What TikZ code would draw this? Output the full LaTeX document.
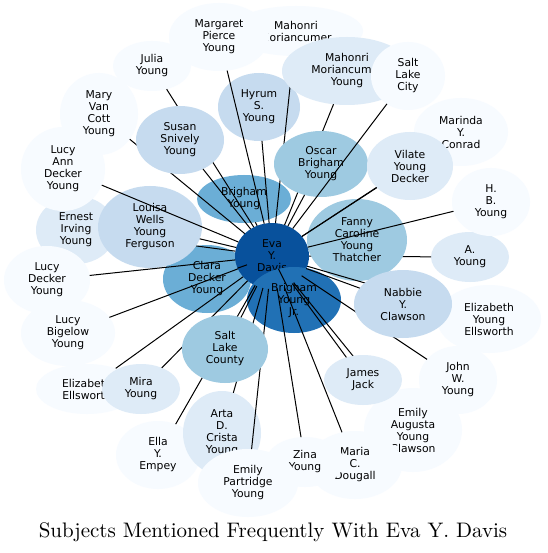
\documentclass[tikz,border=0pt]{standalone}
\usepackage{fontspec}
\newfontfamily\labelfont{DejaVu Sans}
\newfontfamily\titlefont{lmroman10-regular}[Extension=.otf]
\usetikzlibrary{shapes.geometric}
\definecolor{BluA}{HTML}{F7FBFF}
\definecolor{BluB}{HTML}{DEEBF7}
\definecolor{BluC}{HTML}{C6DBEF}
\definecolor{BluD}{HTML}{9ECAE1}
\definecolor{BluE}{HTML}{6BAED6}
\definecolor{BluG}{HTML}{2171B5}
\definecolor{BluH}{HTML}{08519C}
\tikzset{
MyNodeStyle/.style  ={ellipse, inner sep=0pt, outer sep=0pt, align=center,
                      font=\labelfont\fontsize{10.8}{12}\selectfont},
MySize/.style 2 args={minimum width=#1, minimum height=#2},
MyEdgeStyle/.style  ={line width=1pt, black},
}

\begin{document}
\begin{tikzpicture}[x=1pt, y=-1pt]
\fill[white] (0,0) rectangle (547,553);
\useasboundingbox (0,0) rectangle (547,553);

\begin{scope}[MyNodeStyle]  % centre
\node[fill=BluE, MySize={88}{68}] (Clara) at (207,279) {Clara\\Decker\\Young};
\node[fill=BluE, MySize={94}{48}] (BY) at (244,199) {Brigham\\Young};
\node[fill=BluH, MySize={74}{66}] (Eva) at (272,256) {Eva\\Y.\\Davis};
\node[fill=BluG, MySize={94}{66}] (BYJr) at (294,300) {Brigham\\Young\\Jr.};
\node[fill=BluB, MySize={80}{68}] (Ernest) at (76,230) {Ernest\\Irving\\Young};
\end{scope}
\draw[MyEdgeStyle] (Eva) -- (Ernest);
\draw[MyEdgeStyle] (Eva) -- (Clara);
\draw[MyEdgeStyle] (Eva) -- (BY);
\draw[MyEdgeStyle] (Eva) -- (BYJr);

\begin{scope}[MyNodeStyle]  % upper left
\node[fill=BluC, MySize={104}{82}] (Louisa) at (150,227) {Louisa\\Wells\\Young\\Ferguson};
\node[fill=BluA, MySize={78}{82}] (MaryVC) at (99,114) {Mary\\Van\\Cott\\Young};
\node[fill=BluA, MySize={84}{84}] (LucyAnn) at (63,169) {Lucy\\Ann\\Decker\\Young};
\node[fill=BluA, MySize={78}{50}] (Julia) at (152,66) {Julia\\Young};
\end{scope}
\draw[MyEdgeStyle] (Eva) -- (Julia);
\draw[MyEdgeStyle] (Eva) -- (MaryVC);

\begin{scope}[MyNodeStyle]
\node[fill=BluC, MySize={88}{68}] (Susan) at (180,140) {Susan\\Snively\\Young};
\end{scope}
\draw[MyEdgeStyle] (Eva) -- (Susan);
\node[MyNodeStyle, fill=BluC, MySize={82}{68}] (Hyrum) at (259,107) {Hyrum\\S.\\Young};
\draw[MyEdgeStyle] (Eva) -- (Hyrum);

\begin{scope}[MyNodeStyle]  % top
\node[fill=BluA, MySize={134}{50}] (Mahonri) at (296,31) {Mahonri\\Moriancumer};
\node[fill=BluA, MySize={100}{68}] (Margaret) at (219,37) {Margaret\\Pierce\\Young};
\end{scope}
\draw[MyEdgeStyle] (Eva) -- (Mahonri);
\draw[MyEdgeStyle] (Eva) -- (Margaret);
\node[MyNodeStyle, fill=BluB, MySize={130}{68}] (MMY) at (347,71) {Mahonri\\Moriancumer\\Young};
\draw[MyEdgeStyle] (Eva) -- (MMY);
\node[MyNodeStyle, fill=BluD, MySize={94}{66}] (Oscar) at (321,164) {Oscar\\Brigham\\Young};
\draw[MyEdgeStyle] (Eva) -- (Oscar);
\node[MyNodeStyle, fill=BluA, MySize={74}{68}] (SLCity) at (408,76) {Salt\\Lake\\City};
\draw[MyEdgeStyle] (Eva) -- (SLCity);

\begin{scope}[MyNodeStyle]  % right
\node[fill=BluB, MySize={78}{50}] (AYoung) at (470,257) {A.\\Young};
\end{scope}
\draw[MyEdgeStyle] (Eva) -- (AYoung);
\node[MyNodeStyle, fill=BluD, MySize={100}{82}] (Fanny) at (357,240) {Fanny\\Caroline\\Young\\Thatcher};
\draw[MyEdgeStyle] (Eva) -- (Fanny);
\node[MyNodeStyle, fill=BluA, MySize={94}{68}] (Marinda) at (461,132) {Marinda\\Y.\\Conrad};
\draw[MyEdgeStyle] (Eva) -- (Marinda);
\begin{scope}[MyNodeStyle]
\node[fill=BluB, MySize={86}{68}] (Vilate) at (410,166) {Vilate\\Young\\Decker};
\node[fill=BluA, MySize={78}{68}] (HB) at (491,202) {H.\\B.\\Young};
\end{scope}
\draw[MyEdgeStyle] (Eva) -- (Vilate);
\draw[MyEdgeStyle] (Eva) -- (HB);

\begin{scope}[MyNodeStyle]  % lower right
\node[fill=BluA, MySize={78}{68}] (JohnW) at (458,380) {John\\W.\\Young};
\node[fill=BluA, MySize={104}{68}] (ElizYE) at (489,319) {Elizabeth\\Young\\Ellsworth};
\end{scope}
\draw[MyEdgeStyle] (Eva) -- (ElizYE);
\draw[MyEdgeStyle] (Eva) -- (JohnW);
\node[MyNodeStyle, fill=BluC, MySize={98}{68}] (Nabbie) at (403,304) {Nabbie\\Y.\\Clawson};
\draw[MyEdgeStyle] (Eva) -- (Nabbie);
\node[MyNodeStyle, fill=BluA, MySize={98}{84}] (EAugusta) at (413,430) {Emily\\Augusta\\Young\\Clawson};
\draw[MyEdgeStyle] (Eva) -- (EAugusta);
\node[MyNodeStyle, fill=BluB, MySize={78}{50}] (James) at (363,380) {James\\Jack};
\draw[MyEdgeStyle] (Eva) -- (James);

\begin{scope}[MyNodeStyle]  % bottom
\node[fill=BluA, MySize={94}{68}] (Maria) at (355,465) {Maria\\C.\\Dougall};
\node[fill=BluA, MySize={78}{50}] (Zina) at (305,462) {Zina\\Young};
\node[fill=BluA, MySize={84}{68}] (Ella) at (158,455) {Ella\\Y.\\Empey};
\node[fill=BluB, MySize={78}{84}] (Arta) at (222,433) {Arta\\D.\\Crista\\Young};
\node[fill=BluA, MySize={100}{68}] (EPartridge) at (248,483) {Emily\\Partridge\\Young};
\end{scope}
\draw[MyEdgeStyle] (Eva) -- (Maria);
\draw[MyEdgeStyle] (Eva) -- (Zina);
\draw[MyEdgeStyle] (Eva) -- (EPartridge);
\draw[MyEdgeStyle] (Eva) -- (Arta);
\draw[MyEdgeStyle] (Eva) -- (Ella);

\node[MyNodeStyle, fill=BluA, MySize={102}{50}] (ElizE) at (87,389) {Elizabeth\\Ellsworth};
\draw[MyEdgeStyle] (Eva) -- (ElizE);
\node[MyNodeStyle, fill=BluB, MySize={78}{50}] (Mira) at (141,389) {Mira\\Young};
\draw[MyEdgeStyle] (Eva) -- (Mira);
\node[MyNodeStyle, fill=BluD, MySize={86}{68}] (SLCounty) at (225,349) {Salt\\Lake\\County};
\draw[MyEdgeStyle] (Eva) -- (SLCounty);

\begin{scope}[MyNodeStyle]  % left
\node[fill=BluA, MySize={94}{66}] (LucyB) at (68,333) {Lucy\\Bigelow\\Young};
\node[fill=BluA, MySize={86}{68}] (LucyD) at (47,280) {Lucy\\Decker\\Young};
\end{scope}
\draw[MyEdgeStyle] (Eva) -- (LucyB);
\draw[MyEdgeStyle] (Eva) -- (LucyD);
\draw[MyEdgeStyle] (Eva) -- (Louisa);
\draw[MyEdgeStyle] (Eva) -- (LucyAnn);

\node[font=\titlefont\fontsize{21}{25}\selectfont, anchor=base] (Title) at (273,537)
  {Subjects Mentioned Frequently With Eva Y. Davis};
\end{tikzpicture}
\end{document}
